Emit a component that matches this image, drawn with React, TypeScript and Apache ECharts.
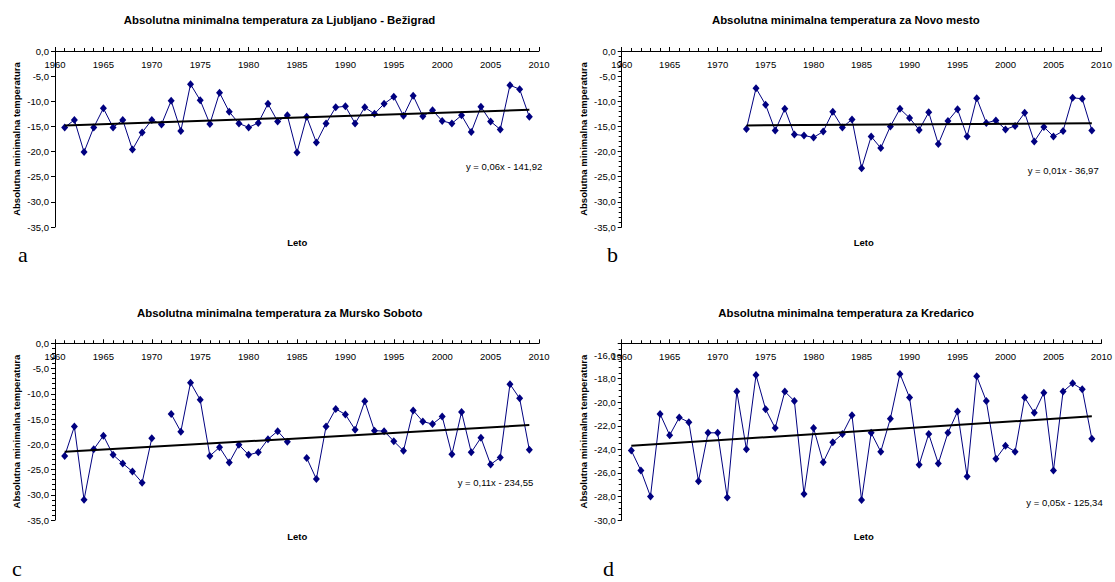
import React, { useEffect, useRef } from "react";
import * as echarts from "echarts";

const yearsAll = [
  1961, 1962, 1963, 1964, 1965, 1966, 1967, 1968, 1969, 1970,
  1971, 1972, 1973, 1974, 1975, 1976, 1977, 1978, 1979, 1980,
  1981, 1982, 1983, 1984, 1985, 1986, 1987, 1988, 1989, 1990,
  1991, 1992, 1993, 1994, 1995, 1996, 1997, 1998, 1999, 2000,
  2001, 2002, 2003, 2004, 2005, 2006, 2007, 2008, 2009,
];
const yearsB = yearsAll.slice(12);

const valuesA = [
  -15.2, -13.7, -20.1, -15.2, -11.4, -15.2, -13.7, -19.6, -16.2, -13.7,
  -14.6, -9.9, -15.9, -6.6, -9.8, -14.5, -8.3, -12.1, -14.4, -15.2,
  -14.3, -10.5, -14.0, -12.8, -20.2, -13.1, -18.2, -14.4, -11.2, -11.0,
  -14.4, -11.2, -12.5, -10.5, -9.1, -12.9, -8.9, -13.0, -11.8, -13.9,
  -14.4, -12.8, -16.1, -11.1, -14.0, -15.6, -6.8, -7.6, -13.1,
];
const valuesB = [
  -15.5, -7.4, -10.7, -15.8, -11.5, -16.6, -16.8, -17.2, -16.0, -12.1,
  -15.2, -13.6, -23.3, -17.0, -19.3, -15.0, -11.5, -13.3, -15.7, -12.2,
  -18.5, -13.9, -11.6, -17.0, -9.4, -14.3, -13.8, -15.6, -14.9, -12.3,
  -18.0, -15.1, -17.0, -15.9, -9.3, -9.5, -15.8,
];
const valuesC = [
  -22.3, -16.5, -31.0, -21.0, -18.3, -22.1, -23.8, -25.4, -27.6, -18.8,
  null, -14.0, -17.5, -7.8, -11.2, -22.3, -20.6, -23.6, -20.1, -22.1,
  -21.6, -19.0, -17.4, -19.5, null, -22.7, -26.9, -16.5, -13.0, -14.1,
  -17.1, -11.5, -17.3, -17.4, -19.4, -21.3, -13.3, -15.5, -16.0, -14.5,
  -22.0, -13.6, -21.6, -18.7, -24.0, -22.6, -8.1, -10.9, -21.1,
];
const valuesD = [
  -24.1, -25.8, -28.0, -21.0, -22.8, -21.3, -21.7, -26.7, -22.6, -22.6,
  -28.1, -19.1, -24.0, -17.7, -20.6, -22.2, -19.1, -19.9, -27.8, -22.2,
  -25.1, -23.4, -22.7, -21.1, -28.3, -22.6, -24.2, -21.4, -17.6, -19.6,
  -25.3, -22.7, -25.2, -22.6, -20.8, -26.3, -17.8, -19.9, -24.8, -23.7,
  -24.2, -19.6, -20.9, -19.2, -25.8, -19.1, -18.4, -18.9, -23.1,
];

const trendA = [[1961, -14.8], [2009, -11.7]];
const trendB = [[1973, -14.8], [2009, -14.35]];
const trendC = [[1961, -21.5], [2009, -16.2]];
const trendD = [[1961, -23.7], [2009, -21.2]];

const titles = [
  "Absolutna minimalna temperatura za Ljubljano - Bežigrad",
  "Absolutna minimalna temperatura za Novo mesto",
  "Absolutna minimalna temperatura za Mursko Soboto",
  "Absolutna minimalna temperatura za Kredarico",
];
const equations = [
  "y = 0,06x - 141,92",
  "y = 0,01x - 36,97",
  "y = 0,11x - 234,55",
  "y = 0,05x - 125,34",
];
const panelLetters = ["a", "b", "c", "d"];
const yAxisTitle = "Absolutna minimalna temperatura";
const xAxisTitle = "Leto";

const FONT = "'Liberation Sans', Arial, Helvetica, sans-serif";
const SERIF = "'Liberation Serif', 'Times New Roman', serif";

const grids = [
  { left: 55, top: 51, width: 484, height: 176 },
  { left: 621.7, top: 51, width: 484.3, height: 176 },
  { left: 55, top: 343.3, width: 484, height: 176.7 },
  { left: 621.7, top: 343.3, width: 484.3, height: 176.7 },
];

const yRanges = [
  { min: -35, max: 0, interval: 5, minor: false, split: 5 },
  { min: -35, max: 0, interval: 5, minor: true, split: 5 },
  { min: -35, max: 0, interval: 5, minor: true, split: 5 },
  { min: -30, max: -15, interval: 2, minor: true, split: 4 },
];

const titlePos = [
  [279.5, 20],
  [845.8, 20],
  [279.7, 313.3],
  [846.2, 313.3],
];
const yNamePos = [
  [16, 139],
  [583.3, 139],
  [16.7, 431.6],
  [583.3, 431.6],
];
const letoPos = [
  [297.3, 242.3],
  [863.7, 242.3],
  [297.3, 536],
  [863.7, 536],
];
const eqPos = [
  [542.3, 166],
  [1098.7, 170],
  [533.3, 482.7],
  [1102.7, 502.7],
];
const letterPos = [
  [18, 254],
  [607, 254],
  [12, 568],
  [603, 568],
];

function toPairs(years: number[], vals: (number | null)[]) {
  return years.map((y, i) => [y, vals[i] == null ? "-" : vals[i]]);
}

export default function App() {
  const ref = useRef<HTMLDivElement>(null);

  useEffect(() => {
    if (!ref.current) return;
    const chart = echarts.init(ref.current, undefined, { renderer: "svg" });

    const dataSets = [
      toPairs(yearsAll, valuesA),
      toPairs(yearsB, valuesB),
      toPairs(yearsAll, valuesC),
      toPairs(yearsAll, valuesD),
    ];
    const trends = [trendA, trendB, trendC, trendD];

    const xAxis = grids.map((_, i) => ({
      type: "value",
      gridIndex: i,
      position: "top",
      min: 1960,
      max: 2010,
      interval: 5,
      axisLine: { show: true, onZero: false, lineStyle: { color: "#000", width: 1 } },
      axisTick: { show: true, inside: false, length: 4, lineStyle: { color: "#000" } },
      minorTick: { show: true, splitNumber: 5, length: 3, lineStyle: { color: "#000" } },
      splitLine: { show: false },
      axisLabel: {
        inside: true,
        margin: 8,
        color: "#000",
        fontFamily: FONT,
        fontSize: 9.5,
        formatter: (v: number) => String(v),
      },
    }));

    const yAxis = yRanges.map((r, i) => ({
      type: "value",
      gridIndex: i,
      min: r.min,
      max: r.max,
      interval: r.interval,
      axisLine: { show: true, onZero: false, lineStyle: { color: "#000", width: 1 } },
      axisTick: { show: true, inside: false, length: 4, lineStyle: { color: "#000" } },
      minorTick: { show: r.minor, splitNumber: r.split, length: 3, lineStyle: { color: "#000" } },
      splitLine: { show: false },
      axisLabel: {
        margin: 6,
        color: "#000",
        fontFamily: FONT,
        fontSize: 9.5,
        showMaxLabel: r.max === 0,
        formatter: (v: number) => v.toFixed(1).replace(".", ","),
      },
    }));

    const series: any[] = [];
    dataSets.forEach((d, i) => {
      series.push({
        type: "line",
        xAxisIndex: i,
        yAxisIndex: i,
        data: d,
        connectNulls: false,
        symbol: "diamond",
        symbolSize: [7, 8],
        itemStyle: { color: "#000080" },
        lineStyle: { color: "#000080", width: 1 },
        z: 2,
      });
      series.push({
        type: "line",
        xAxisIndex: i,
        yAxisIndex: i,
        data: trends[i],
        symbol: "none",
        lineStyle: { color: "#000", width: 2 },
        z: 3,
      });
    });

    const graphic: any[] = [];
    for (let i = 0; i < 4; i++) {
      graphic.push({
        type: "text",
        x: titlePos[i][0],
        y: titlePos[i][1],
        style: {
          text: titles[i],
          align: "center",
          verticalAlign: "middle",
          fill: "#000",
          font: `bold 11.4px ${FONT}`,
        },
      });
      graphic.push({
        type: "text",
        x: yNamePos[i][0],
        y: yNamePos[i][1],
        rotation: Math.PI / 2,
        style: {
          text: yAxisTitle,
          align: "center",
          verticalAlign: "middle",
          fill: "#000",
          font: `bold 9.5px ${FONT}`,
        },
      });
      graphic.push({
        type: "text",
        x: letoPos[i][0],
        y: letoPos[i][1],
        style: {
          text: xAxisTitle,
          align: "center",
          verticalAlign: "middle",
          fill: "#000",
          font: `bold 9.5px ${FONT}`,
        },
      });
      graphic.push({
        type: "text",
        x: eqPos[i][0],
        y: eqPos[i][1],
        style: {
          text: equations[i],
          align: "right",
          verticalAlign: "middle",
          fill: "#000",
          font: `9.5px ${FONT}`,
        },
      });
      graphic.push({
        type: "text",
        x: letterPos[i][0],
        y: letterPos[i][1],
        style: {
          text: panelLetters[i],
          align: "left",
          verticalAlign: "middle",
          fill: "#000",
          font: `22px ${SERIF}`,
        },
      });
    }

    chart.setOption({
      animation: false,
      backgroundColor: "#fff",
      grid: grids.map((g) => ({ ...g, containLabel: false })),
      xAxis,
      yAxis,
      series,
      graphic,
    });

    return () => chart.dispose();
  }, []);

  return (
    <div
      ref={ref}
      style={{ position: "absolute", left: 0, top: 0, width: 1115, height: 582 }}
    />
  );
}
